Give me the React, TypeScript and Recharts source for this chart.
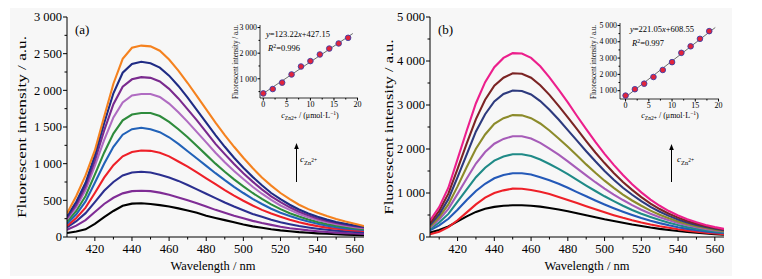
import React from 'react';
import { LineChart, Line, XAxis, YAxis, ScatterChart, Scatter } from 'recharts';

const FONT = '"Liberation Serif", "Times New Roman", "DejaVu Serif", serif';

// ---------- data ----------
const wavelengths = [405, 410, 415, 420, 425, 430, 435, 440, 445, 450, 455, 460, 465, 470, 475, 480, 485, 490, 495, 500, 505, 510, 515, 520, 525, 530, 535, 540, 545, 550, 555, 560, 565];

// panel (a)
const aBlack = [55, 75, 105, 180, 270, 355, 425, 455, 460, 450, 435, 415, 390, 360, 330, 290, 260, 230, 200, 170, 145, 125, 105, 90, 78, 66, 58, 50, 44, 38, 33, 29, 26];
const aPurple1 = [100, 155, 230, 340, 450, 535, 595, 625, 630, 625, 605, 575, 540, 500, 460, 415, 370, 330, 290, 255, 220, 190, 165, 140, 120, 105, 90, 78, 68, 60, 53, 47, 43];
const aNavy1 = [130, 215, 325, 475, 630, 750, 840, 880, 890, 880, 850, 810, 765, 710, 650, 590, 530, 470, 415, 365, 315, 275, 235, 200, 175, 150, 130, 112, 98, 87, 78, 70, 64];
const aRed = [150, 260, 400, 600, 810, 980, 1100, 1160, 1180, 1175, 1150, 1100, 1030, 960, 880, 800, 720, 640, 565, 495, 430, 370, 320, 275, 235, 200, 172, 148, 128, 112, 100, 90, 82];
const aBlue = [180, 310, 485, 740, 1000, 1230, 1395, 1470, 1490, 1470, 1430, 1360, 1270, 1170, 1070, 970, 870, 775, 685, 600, 520, 450, 385, 330, 285, 245, 210, 180, 155, 135, 118, 105, 95];
const aGreen = [210, 355, 560, 850, 1150, 1410, 1590, 1670, 1690, 1690, 1650, 1570, 1470, 1360, 1240, 1120, 1000, 890, 785, 690, 600, 520, 445, 380, 325, 280, 240, 205, 178, 155, 136, 120, 108];
const aLilac = [240, 410, 640, 970, 1320, 1630, 1835, 1930, 1950, 1950, 1910, 1820, 1700, 1570, 1430, 1290, 1150, 1020, 900, 790, 685, 590, 505, 430, 370, 315, 270, 232, 200, 175, 153, 135, 120];
const aPurple2 = [260, 440, 690, 1040, 1450, 1810, 2050, 2150, 2180, 2170, 2120, 2020, 1890, 1740, 1590, 1430, 1270, 1130, 995, 870, 755, 650, 555, 475, 405, 345, 295, 253, 218, 190, 166, 146, 130];
const aNavy2 = [280, 480, 740, 1110, 1550, 1960, 2240, 2360, 2390, 2370, 2310, 2200, 2060, 1900, 1730, 1560, 1390, 1230, 1080, 945, 820, 705, 600, 515, 440, 375, 320, 275, 237, 205, 180, 158, 140];
const aOrange = [320, 560, 840, 1180, 1640, 2090, 2430, 2580, 2610, 2600, 2540, 2420, 2270, 2100, 1920, 1740, 1560, 1390, 1230, 1080, 940, 810, 700, 600, 515, 440, 380, 330, 285, 245, 210, 180, 150];
const aSeries = [aBlack, aPurple1, aNavy1, aRed, aBlue, aGreen, aLilac, aPurple2, aNavy2, aOrange];
const aColors = ['#000000', '#7f2c95', '#2b2f8f', '#ee2028', '#2262b8', '#2e8b3c', '#b06cc2', '#7a2a8e', '#1f2b84', '#f5821f'];

// panel (b)
const bBlack = [100, 160, 240, 355, 470, 570, 640, 685, 710, 720, 720, 710, 690, 660, 625, 585, 540, 495, 450, 405, 365, 325, 285, 250, 215, 185, 160, 135, 115, 95, 80, 65, 55];
const bRed = [60, 120, 225, 380, 560, 740, 895, 1000, 1060, 1100, 1095, 1070, 1030, 975, 910, 840, 770, 700, 630, 560, 495, 435, 380, 330, 285, 245, 210, 175, 145, 120, 98, 80, 65];
const bBlue = [150, 265, 415, 620, 840, 1045, 1210, 1335, 1410, 1450, 1450, 1420, 1360, 1290, 1210, 1120, 1020, 925, 830, 740, 655, 575, 500, 430, 370, 315, 265, 222, 185, 155, 128, 106, 90];
const bTeal = [180, 330, 525, 805, 1085, 1360, 1575, 1735, 1830, 1880, 1880, 1840, 1760, 1660, 1550, 1430, 1300, 1170, 1045, 925, 815, 710, 615, 530, 455, 385, 325, 272, 225, 186, 153, 126, 105];
const bPurple = [210, 395, 640, 980, 1330, 1670, 1930, 2120, 2230, 2290, 2290, 2240, 2140, 2010, 1870, 1720, 1560, 1400, 1245, 1100, 965, 840, 725, 620, 530, 450, 380, 318, 265, 220, 182, 150, 125];
const bOlive = [240, 450, 740, 1150, 1590, 2005, 2330, 2570, 2700, 2770, 2765, 2700, 2580, 2420, 2240, 2050, 1850, 1650, 1460, 1280, 1115, 965, 830, 710, 600, 505, 425, 355, 295, 245, 203, 168, 140];
const bNavy = [270, 515, 860, 1360, 1880, 2400, 2790, 3080, 3250, 3330, 3320, 3240, 3090, 2890, 2670, 2430, 2190, 1950, 1720, 1500, 1300, 1120, 960, 815, 685, 575, 480, 400, 332, 275, 228, 188, 155];
const bBrown = [310, 595, 985, 1550, 2130, 2680, 3120, 3440, 3620, 3720, 3710, 3620, 3450, 3230, 2980, 2720, 2450, 2180, 1920, 1680, 1455, 1250, 1070, 905, 760, 635, 530, 440, 365, 302, 250, 206, 170];
const bPink = [370, 680, 1120, 1770, 2420, 3040, 3520, 3860, 4070, 4180, 4170, 4070, 3880, 3630, 3350, 3060, 2750, 2450, 2160, 1890, 1640, 1410, 1200, 1015, 850, 710, 590, 490, 405, 335, 275, 225, 185];
const bSeries = [bBlack, bRed, bBlue, bTeal, bPurple, bOlive, bNavy, bBrown, bPink];
const bColors = ['#000000', '#ee2028', '#2459b8', '#1f8a87', '#a65cb8', '#8c8b2b', '#2d3a7e', '#7b2424', '#ec1f8c'];

// insets
const insetConc = [0, 2, 4, 6, 8, 10, 12, 14, 16, 18];
const insetA = [430, 600, 850, 1170, 1480, 1690, 1950, 2180, 2380, 2600];
const insetB = [700, 1090, 1430, 1840, 2270, 2750, 3320, 3720, 4180, 4650];
const fitAConc = [0, 19];
const fitAVal = [427, 2768];
const fitBConc = [0, 19.3];
const fitBVal = [609, 4875];

const xTicksMain = [410, 420, 430, 440, 450, 460, 470, 480, 490, 500, 510, 520, 530, 540, 550, 560];
const yTicksA = [0, 250, 500, 750, 1000, 1250, 1500, 1750, 2000, 2250, 2500, 2750, 3000];
const yTicksB = [0, 500, 1000, 1500, 2000, 2500, 3000, 3500, 4000, 4500, 5000];
const insetXTicks = [0, 2.5, 5, 7.5, 10, 12.5, 15, 17.5, 20];
const insetYTicksA = [500, 1000, 1500, 2000, 2500, 3000];
const insetYTicksB = [1000, 1500, 2000, 2500, 3000, 3500, 4000, 4500, 5000];

// ---------- helpers ----------
const fmtK = (v: number) => (v >= 1000 ? `${Math.floor(v / 1000)} ${String(v % 1000).padStart(3, '0')}` : String(v));

type TickOpts = { isMajor: (v: number) => boolean; fmt: (v: number) => string; fs: number; len: number; mlen: number; gap: number };

const xTick = (o: TickOpts) => (p: any) => {
  const v = p.payload.value;
  const maj = o.isMajor(v);
  const l = maj ? o.len : o.mlen;
  return (
    <g>
      <line x1={p.x} x2={p.x} y1={p.y} y2={p.y + l} stroke="#000" strokeWidth={1} />
      {maj && (
        <text x={p.x} y={p.y + o.gap} textAnchor="middle" fontSize={o.fs} fontFamily={FONT} fill="#000">
          {o.fmt(v)}
        </text>
      )}
    </g>
  );
};

const yTick = (o: TickOpts) => (p: any) => {
  const v = p.payload.value;
  const maj = o.isMajor(v);
  const l = maj ? o.len : o.mlen;
  return (
    <g>
      <line x1={p.x} x2={p.x - l} y1={p.y} y2={p.y} stroke="#000" strokeWidth={1} />
      {maj && (
        <text x={p.x - o.gap} y={p.y} dy="0.35em" textAnchor="end" fontSize={o.fs} fontFamily={FONT} fill="#000">
          {o.fmt(v)}
        </text>
      )}
    </g>
  );
};

const buildRows = (series: number[][]) =>
  wavelengths.map((w, i) => {
    const row: Record<string, number> = { w };
    series.forEach((s, k) => {
      row['s' + k] = s[i];
    });
    return row;
  });

const aRows = buildRows(aSeries);
const bRows = buildRows(bSeries);
const insetARows = insetConc.map((c, i) => ({ c, v: insetA[i] }));
const insetBRows = insetConc.map((c, i) => ({ c, v: insetB[i] }));
const fitARows = fitAConc.map((c, i) => ({ c, v: fitAVal[i] }));
const fitBRows = fitBConc.map((c, i) => ({ c, v: fitBVal[i] }));

function MainPanel(props: {
  left: number;
  rows: any[];
  colors: string[];
  yMax: number;
  yTicks: number[];
  yMajorStep: number;
  margin: { top: number; right: number; bottom: number; left: number };
}) {
  const { left, rows, colors, yMax, yTicks, yMajorStep, margin } = props;
  return (
    <div style={{ position: 'absolute', left, top: 0 }}>
      <LineChart width={380} height={279} data={rows} margin={margin}>
        <XAxis
          dataKey="w"
          type="number"
          domain={[405, 565]}
          ticks={xTicksMain}
          interval={0}
          allowDataOverflow
          height={30}
          tickSize={0}
          tickMargin={0}
          axisLine={{ stroke: '#000', strokeWidth: 1 }}
          tickLine={false}
          tick={xTick({ isMajor: (v) => v % 20 === 0, fmt: String, fs: 12.5, len: 4, mlen: 2.5, gap: 16 })}
        />
        <XAxis xAxisId="top" orientation="top" dataKey="w" type="number" domain={[405, 565]} height={0} tick={false} tickLine={false} axisLine={{ stroke: '#000', strokeWidth: 1 }} />
        <YAxis
          type="number"
          domain={[0, yMax]}
          ticks={yTicks}
          interval={0}
          allowDataOverflow
          width={50}
          tickSize={0}
          tickMargin={0}
          axisLine={{ stroke: '#000', strokeWidth: 1 }}
          tickLine={false}
          tick={yTick({ isMajor: (v) => v % yMajorStep === 0, fmt: fmtK, fs: 12.5, len: 4, mlen: 2.5, gap: 5 })}
        />
        <YAxis yAxisId="right" orientation="right" type="number" domain={[0, yMax]} width={0} tick={false} tickLine={false} axisLine={{ stroke: '#000', strokeWidth: 1 }} />
        {colors.map((c, k) => (
          <Line key={k} type="linear" dataKey={'s' + k} stroke={c} strokeWidth={2.1} dot={false} isAnimationActive={false} />
        ))}
      </LineChart>
    </div>
  );
}

const Marker = (p: any) => <circle cx={p.cx} cy={p.cy} r={2.8} fill="#e2243a" stroke="#3b3fa8" strokeWidth={0.9} />;
const NoMarker = () => <g />;

function Inset(props: { left: number; top: number; width: number; height: number; xDomain: [number, number]; yDomain: [number, number]; yTicks: number[]; pts: any[]; fit: any[] }) {
  const { left, top, width, height, xDomain, yDomain, yTicks, pts, fit } = props;
  return (
    <div style={{ position: 'absolute', left, top }}>
      <ScatterChart width={width} height={height} margin={{ top: 5, right: 4, bottom: 0, left: 0 }}>
        <XAxis
          dataKey="c"
          type="number"
          domain={xDomain}
          ticks={insetXTicks}
          interval={0}
          allowDataOverflow
          height={22}
          tickSize={0}
          tickMargin={0}
          axisLine={{ stroke: '#000', strokeWidth: 0.8 }}
          tickLine={false}
          tick={xTick({ isMajor: (v) => v % 5 === 0, fmt: String, fs: 8, len: 2.5, mlen: 1.5, gap: 9 })}
        />
        <YAxis
          dataKey="v"
          type="number"
          domain={yDomain}
          ticks={yTicks}
          interval={0}
          allowDataOverflow
          width={40}
          tickSize={0}
          tickMargin={0}
          axisLine={{ stroke: '#000', strokeWidth: 0.8 }}
          tickLine={false}
          tick={yTick({ isMajor: (v) => v % 1000 === 0, fmt: fmtK, fs: 7.8, len: 2.5, mlen: 1.5, gap: 3 })}
        />
        <Scatter data={fit} line={{ stroke: '#6e6e6e', strokeWidth: 1 }} shape={NoMarker} isAnimationActive={false} />
        <Scatter data={pts} shape={Marker} isAnimationActive={false} />
      </ScatterChart>
    </div>
  );
}

function ConcLabel(props: { x: number; y: number; fs: number }) {
  const { x, y, fs } = props;
  return (
    <text x={x} y={y} fontFamily={FONT} fontSize={fs} fill="#000">
      <tspan fontStyle="italic">c</tspan>
      <tspan fontSize={fs * 0.72} dy={fs * 0.3}>Zn</tspan>
      <tspan fontSize={fs * 0.6} dy={-fs * 0.35}>2+</tspan>
    </text>
  );
}

function InsetXTitle(props: { cx: number; y: number }) {
  const { cx, y } = props;
  const fs = 8;
  return (
    <text x={cx} y={y} textAnchor="middle" fontFamily={FONT} fontSize={fs} fill="#000">
      <tspan fontStyle="italic">c</tspan>
      <tspan fontSize={fs * 0.7} dy={2}>Zn2+</tspan>
      <tspan dy={-2}> / (μmol·L</tspan>
      <tspan fontSize={fs * 0.7} dy={-3}>−1</tspan>
      <tspan dy={3}>)</tspan>
    </text>
  );
}

function Equation(props: { x: number; y: number; slope: string; icpt: string; r2: string; gap: number }) {
  const { x, y, slope, icpt, r2, gap } = props;
  const fs = 8.5;
  return (
    <g fontFamily={FONT} fontSize={fs} fill="#000">
      <text x={x} y={y}>
        <tspan fontStyle="italic">y</tspan>
        <tspan>={slope}</tspan>
        <tspan fontStyle="italic">x</tspan>
        <tspan>+{icpt}</tspan>
      </text>
      <text x={x + 2} y={y + gap}>
        <tspan fontStyle="italic">R</tspan>
        <tspan fontSize={fs * 0.7} dy={-3}>2</tspan>
        <tspan dy={3}>={r2}</tspan>
      </text>
    </g>
  );
}

function Arrow(props: { x: number; y1: number; y2: number }) {
  const { x, y1, y2 } = props;
  return (
    <g>
      <line x1={x} x2={x} y1={y1} y2={y2 + 5} stroke="#000" strokeWidth={1} />
      <path d={`M${x - 2.3},${y2 + 6} L${x},${y2} L${x + 2.3},${y2 + 6} Z`} fill="#000" />
    </g>
  );
}

export default function App() {
  return (
    <div style={{ position: 'absolute', left: 0, top: 0, width: 762, height: 279, background: '#ffffff', overflow: 'hidden' }}>
      <div style={{ position: 'absolute', left: 10, top: 8, width: 722, height: 268, background: '#f7f7f7' }} />
      <MainPanel left={0} rows={aRows} colors={aColors} yMax={3000} yTicks={yTicksA} yMajorStep={500} margin={{ top: 17, right: 16, bottom: 12, left: 17 }} />
      <MainPanel left={380} rows={bRows} colors={bColors} yMax={5000} yTicks={yTicksB} yMajorStep={1000} margin={{ top: 17, right: 36, bottom: 12, left: 0 }} />
      <Inset left={220} top={20} width={142} height={100} xDomain={[-0.7, 20.1]} yDomain={[250, 3100]} yTicks={insetYTicksA} pts={insetARows} fit={fitARows} />
      <Inset left={579.5} top={18.3} width={143} height={103} xDomain={[-1.2, 20.1]} yDomain={[490, 5150]} yTicks={insetYTicksB} pts={insetBRows} fit={fitBRows} />
      <svg width={762} height={279} style={{ position: 'absolute', left: 0, top: 0, pointerEvents: 'none' }}>
        <g fontFamily={FONT} fill="#000">
          <text x={75} y={34} fontSize={13}>(a)</text>
          <text x={438} y={34} fontSize={13}>(b)</text>
          <text x={213} y={270} fontSize={12.5} textAnchor="middle">Wavelength / nm</text>
          <text x={587} y={270} fontSize={12.5} textAnchor="middle">Wavelength / nm</text>
          <text transform="translate(26,127) rotate(-90)" fontSize={13} textAnchor="middle" textLength={182} lengthAdjust="spacingAndGlyphs">Fluorescent intensity / a.u.</text>
          <text transform="translate(393,127) rotate(-90)" fontSize={13} textAnchor="middle" textLength={175} lengthAdjust="spacingAndGlyphs">Fluorescent intensity / a.u.</text>
          <text transform="translate(238,62) rotate(-90)" fontSize={7.5} textAnchor="middle" textLength={74} lengthAdjust="spacingAndGlyphs">Fluorescent intensity / a.u.</text>
          <text transform="translate(596,62) rotate(-90)" fontSize={7.5} textAnchor="middle" textLength={74} lengthAdjust="spacingAndGlyphs">Fluorescent intensity / a.u.</text>
        </g>
        <InsetXTitle cx={310} y={118} />
        <InsetXTitle cx={670} y={118} />
        <Equation x={266} y={37} slope="123.22" icpt="427.15" r2="0.996" gap={14} />
        <Equation x={630} y={32} slope="221.05" icpt="608.55" r2="0.997" gap={14} />
        <Arrow x={296.5} y1={182} y2={143} />
        <Arrow x={671.5} y1={182} y2={144} />
        <ConcLabel x={300} y={162} fs={9} />
        <ConcLabel x={677} y={162} fs={9} />
      </svg>
    </div>
  );
}
